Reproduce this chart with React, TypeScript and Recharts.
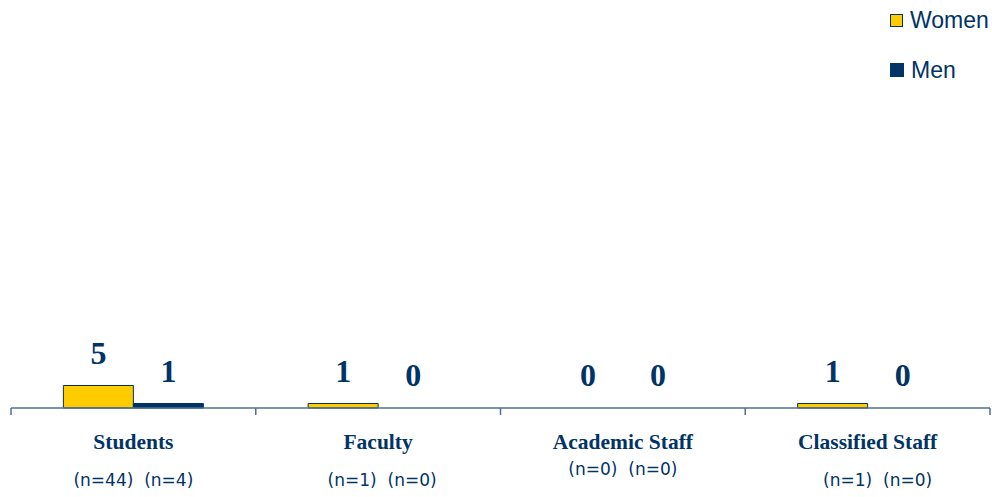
import React from 'react';
import { BarChart, Bar, XAxis, YAxis, LabelList, Rectangle } from 'recharts';

const categories = ['Students', 'Faculty', 'Academic Staff', 'Classified Staff'];
const womenValues = [5, 1, 0, 1];
const menValues = [1, 0, 0, 0];
const womenCounts = [44, 1, 0, 1];
const menCounts = [4, 0, 0, 0];

const NAVY = '#003366';
const GOLD = '#FFCC00';
const AXIS = '#4F6F94';

const data = categories.map((name, i) => ({
  name,
  women: womenValues[i],
  men: menValues[i],
  womenN: womenCounts[i],
  menN: menCounts[i],
}));

const CategoryTick = (props: any) => {
  const { x, y, payload, index } = props;
  const half = payload.offset ?? 122.5;
  const row = data[index] || data.find((d) => d.name === payload.value);
  const nY = payload.value === 'Academic Staff' ? 59 : 70;
  const nShift = payload.value === 'Classified Staff' ? 10 : payload.value === 'Faculty' ? 4 : 0;
  const isLast = index === categories.length - 1;
  return (
    <g>
      <line x1={x - half} x2={x - half} y1={y - 8} y2={y - 1} stroke={AXIS} strokeWidth={1.5} />
      {isLast && (
        <line x1={x + half} x2={x + half} y1={y - 8} y2={y - 1} stroke={AXIS} strokeWidth={1.5} />
      )}
      <text
        x={x}
        y={y + 33}
        textAnchor="middle"
        fill={NAVY}
        fontFamily="'Liberation Serif', 'Times New Roman', serif"
        fontWeight="bold"
        fontSize={21.5}
      >
        {payload.value}
      </text>
      {row && (
        <text
          x={x + nShift}
          y={y + nY}
          textAnchor="middle"
          fill={NAVY}
          fontFamily="'DejaVu Sans', Verdana, sans-serif"
          fontSize={17}
          style={{ whiteSpace: 'pre' }}
        >
          {`(n=${row.womenN})  (n=${row.menN})`}
        </text>
      )}
    </g>
  );
};

const valueLabelStyle = {
  fill: NAVY,
  fontFamily: "'Liberation Serif', 'Times New Roman', serif",
  fontWeight: 'bold' as const,
  fontSize: 32,
};

// Zero-valued bars keep a hairline rectangle so their labels still render,
// but the rectangle itself is not painted.
const BarShape = (props: any) => {
  if (!props.height || Math.abs(props.height) < 0.5) return <g />;
  return <Rectangle {...props} />;
};

const LegendBox = () => (
  <div
    style={{
      position: 'absolute',
      left: 890,
      top: 6,
      fontFamily: "'Liberation Sans', Arial, sans-serif",
      fontSize: 23,
      color: NAVY,
      lineHeight: '28px',
    }}
  >
    <div style={{ display: 'flex', alignItems: 'center', height: 28 }}>
      <span
        style={{
          display: 'inline-block',
          width: 11,
          height: 11,
          background: GOLD,
          border: `1.5px solid ${NAVY}`,
          marginRight: 7,
        }}
      />
      Women
    </div>
    <div style={{ display: 'flex', alignItems: 'center', height: 28, marginTop: 22 }}>
      <span
        style={{
          display: 'inline-block',
          width: 14,
          height: 14,
          background: NAVY,
          marginRight: 7,
        }}
      />
      Men
    </div>
  </div>
);

export default function App() {
  return (
    <div style={{ position: 'absolute', left: 0, top: 0, width: 992, height: 497, background: '#fff' }}>
      <BarChart
        width={992}
        height={497}
        data={data}
        margin={{ top: 48, right: 2, bottom: 0, left: 11 }}
        barCategoryGap="21.4%"
        barGap={0}
      >
        <YAxis hide domain={[0, 80]} />
        <XAxis
          dataKey="name"
          axisLine={{ stroke: AXIS, strokeWidth: 1.5 }}
          tickLine={false}
          interval={0}
          height={89}
          tick={<CategoryTick />}
        />
        <Bar
          dataKey="women"
          fill={GOLD}
          stroke={NAVY}
          strokeWidth={1}
          minPointSize={0.01}
          shape={<BarShape />}
          isAnimationActive={false}
        >
          <LabelList dataKey="women" position="top" offset={22} style={valueLabelStyle} />
        </Bar>
        <Bar
          dataKey="men"
          fill={NAVY}
          stroke={NAVY}
          strokeWidth={1}
          minPointSize={0.01}
          shape={<BarShape />}
          isAnimationActive={false}
        >
          <LabelList dataKey="men" position="top" offset={22} style={valueLabelStyle} />
        </Bar>
      </BarChart>
      <LegendBox />
    </div>
  );
}
